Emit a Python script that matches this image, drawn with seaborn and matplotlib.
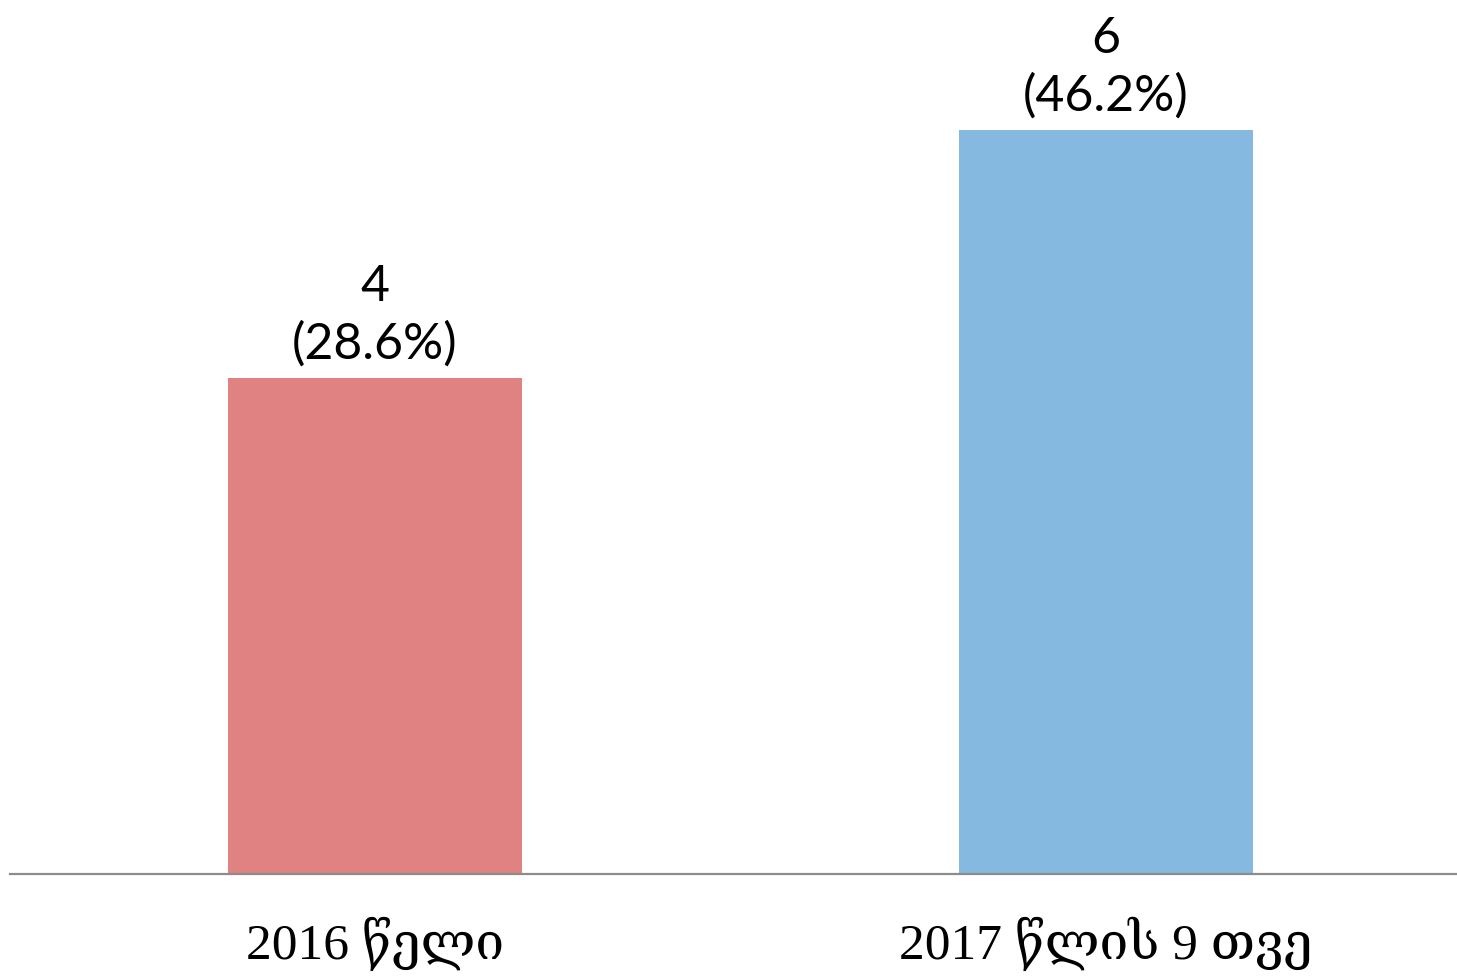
import matplotlib
matplotlib.use("Agg")
import matplotlib.pyplot as plt
import seaborn as sns
import pandas as pd

categories = ["2016 წელი", "2017 წლის 9 თვე"]
counts = [4, 6]
percent_labels = ["28.6%", "46.2%"]
bar_colors = ["#E18282", "#85B9E0"]

sns.set_theme(style="white")
plt.rcParams['font.family'] = ['Liberation Serif', 'DejaVu Serif', 'DejaVu Sans']

df = pd.DataFrame({"cat": categories, "val": counts})

fig = plt.figure(figsize=(14.57, 9.78), dpi=100)
ax = fig.add_axes([10/1457, 103/978, 1447/1457, 875/978])
sns.barplot(data=df, x="cat", y="val", hue="cat", palette=bar_colors,
            width=0.4025, legend=False, ax=ax, edgecolor="none", saturation=1)

ax.set_xlim(-0.4997, 1.481)
ax.set_ylim(0, 875/124)

for i, (v, p) in enumerate(zip(counts, percent_labels)):
    ax.annotate(f"{v}\n({p})", xy=(i, v), xytext=(0, 8), textcoords="offset points",
                ha="center", va="bottom", fontsize=36, family=["Lato", "DejaVu Sans"],
                linespacing=1.3, color="black")

for s in ["top", "right", "left"]:
    ax.spines[s].set_visible(False)
ax.spines["bottom"].set_color("#8C8C8C")
ax.spines["bottom"].set_linewidth(1.6)
ax.set_yticks([])
ax.set_xlabel("")
ax.set_ylabel("")
ax.tick_params(axis="x", length=0, pad=30, labelsize=37, labelcolor="black")
for lab in ax.get_xticklabels():
    lab.set_family(['Liberation Serif', 'DejaVu Serif', 'DejaVu Sans'])

fig.savefig("out.png", dpi=100)
